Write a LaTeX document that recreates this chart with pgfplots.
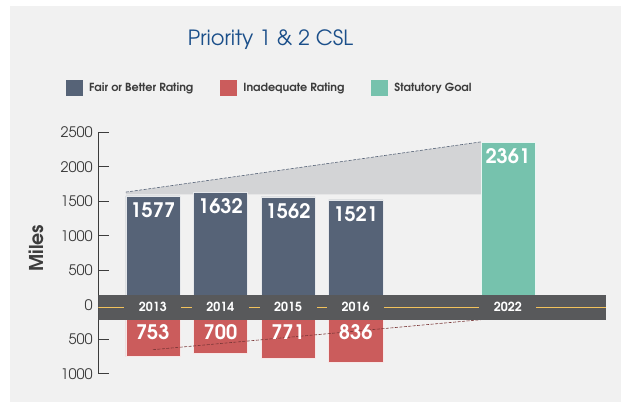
\documentclass[border=0pt]{standalone}
\usepackage{fontspec}
\setmainfont{TeX Gyre Adventor}
\usepackage{pgfplots}
\pgfplotsset{compat=1.18}

\definecolor{bg}{HTML}{F1F1F1}
\definecolor{slate}{HTML}{566377}
\definecolor{badred}{HTML}{CB5C5C}
\definecolor{goal}{HTML}{76C2AD}
\definecolor{road}{HTML}{58595B}
\definecolor{lane}{HTML}{F2C25C}
\definecolor{wedge}{HTML}{D3D4D6}
\definecolor{titleblue}{HTML}{1B4F8A}
\definecolor{txt}{HTML}{3C3C3C}

\tikzset{yearlbl/.style={fill=road, text=white, inner sep=0pt, minimum width=57pt,
    minimum height=16pt, font=\bfseries\fontsize{12.5}{14}\selectfont}}

\begin{document}
\begin{tikzpicture}[x=1pt,y=1pt]
  \fill[white] (0,0) rectangle (621,402);
  \fill[bg] (10,0) rectangle (621,396);
  \node[text=titleblue, font=\fontsize{21}{25}\selectfont] at (270.5,362) {Priority 1 \& 2 CSL};

  \begin{axis}[
      at={(98.3pt,28.3pt)}, anchor=south west,
      scale only axis, width=507.7pt, height=241.4pt,
      xmin=-0.806, xmax=6.70,
      ymin=-1000, ymax=2500,
      axis x line=none,
      axis y line*=left,
      y axis line style={color=txt, line width=1.2pt},
      ytick={-1000,-500,0,500,1000,1500,2000,2500},
      yticklabels={1000,500,0,500,1000,1500,2000,2500},
      tick align=inside,
      major tick length=11pt,
      tick style={color=txt, line width=1.2pt},
      yticklabel style={font=\fontsize{14.5}{16}\selectfont, text=txt, xshift=-2pt},
      /pgf/number format/assume math mode=true,
      /pgf/number format/1000 sep={},
      ylabel={Miles},
      ylabel style={at={(axis description cs:-0.122,0.52)}, anchor=center,
        font=\bfseries\fontsize{19}{22}\selectfont, text=txt},
      legend image code/.code={\fill[#1, draw=none] (0pt,-8pt) rectangle (17pt,8pt);},
      legend columns=3,
      legend style={at={(axis description cs:-0.0636,1.185)}, anchor=west,
        draw=none, fill=none, inner sep=0pt,
        font=\bfseries\fontsize{11.2}{13}\selectfont, text=txt,
        /tikz/every odd column/.append style={column sep=4pt},
        /tikz/every even column/.append style={column sep=25pt},
        cells={anchor=west}},
    ]
    % wedge between the 2013 level and the goal
    \addplot[forget plot, fill=wedge, draw=none]
      coordinates {(-0.4,1600) (-0.4,1633) (4.85,2361) (4.85,1600)} -- cycle;
    \addplot[forget plot, color=slate, line width=0.6pt, dash pattern=on 3pt off 1.5pt]
      coordinates {(-0.4,1633) (4.85,2361)};

    \addplot[ybar, bar width=0.8, fill=slate, draw=white!85!slate, line width=0.4pt,
      nodes near coords,
      every node near coord/.append style={anchor=north, yshift=-3pt, text=white,
        font=\bfseries\fontsize{20}{23}\selectfont}]
      coordinates {(0,1577) (1,1632) (2,1562) (3,1521)};
    \addlegendentry{Fair or Better Rating}

    \addplot[ybar, bar width=0.8, fill=badred, draw=white!85!badred, line width=0.4pt]
      coordinates {(0,-753) (1,-700) (2,-771) (3,-836)};
    \addlegendentry{Inadequate Rating}

    \addplot[ybar, bar width=0.8, fill=goal, draw=white!85!goal, line width=0.4pt,
      nodes near coords,
      every node near coord/.append style={anchor=north, yshift=-3pt, text=white,
        font=\bfseries\fontsize{20}{23}\selectfont}]
      coordinates {(5.25,2361)};
    \addlegendentry{Statutory Goal}

    % labels of the inadequate miles, set just below the road
    \addplot[forget plot, draw=none, mark=none,
      nodes near coords, point meta=explicit symbolic,
      every node near coord/.append style={anchor=center, text=white,
        font=\bfseries\fontsize{20}{23}\selectfont}]
      coordinates {(0,-391)[753] (1,-391)[700] (2,-391)[771] (3,-391)[836]};

    \addplot[forget plot, color=badred!60!black, line width=0.6pt, dash pattern=on 3pt off 1.5pt]
      coordinates {(0,-652) (4.85,-217)};

    % road band
    \fill[road] (axis cs:-0.806,-217) rectangle (axis cs:6.70,145);
    \draw[lane, line width=1pt] (axis cs:-0.806,-36) -- (axis cs:6.70,-36);
    \node[yearlbl] at (axis cs:0,-36) {2013};
    \node[yearlbl] at (axis cs:1,-36) {2014};
    \node[yearlbl] at (axis cs:2,-36) {2015};
    \node[yearlbl] at (axis cs:3,-36) {2016};
    \node[yearlbl] at (axis cs:5.25,-36) {2022};
  \end{axis}
\end{tikzpicture}
\end{document}
